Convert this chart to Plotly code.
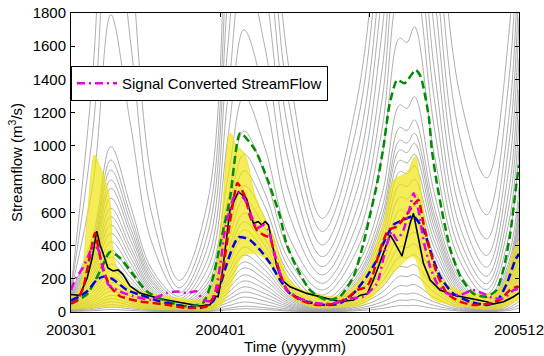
import plotly.graph_objects as go

# ---------------- axis / tick labels ----------------
tick_months = [0, 12, 24, 36]
tick_labels = ["200301", "200401", "200501", "200512"]

# ---------------- observed (black) ----------------
obs_m = [0, 0.7, 1.3, 1.7, 2.07, 2.33, 2.57, 2.97, 3.38, 3.78, 4.18, 4.74, 5.55, 7.15, 9.0, 10.37, 11.17,
         11.58, 11.82, 12.1, 12.5, 12.78, 13.45, 14.1, 14.65, 15.05, 15.33, 15.6, 15.87, 16.14, 16.54, 16.94,
         17.6, 18.95, 20.56, 21.6, 22.7, 23.2, 23.8, 24.3, 25.1, 25.64, 25.9, 26.3, 26.6, 26.85, 27.25, 27.52,
         27.92, 28.32, 28.86, 29.66, 30.7, 32.07, 33.4, 33.95, 34.76, 35.56, 36]
obs_q = [105, 100, 205, 325, 487, 405, 355, 265, 247, 253, 225, 157, 114, 80, 54, 36, 44,
         96, 92, 205, 445, 616, 724, 684, 534, 544, 524, 544, 524, 413, 273, 193,
         152, 112, 82, 62, 72, 100, 110, 193, 353, 464, 433, 373, 337, 413, 534, 594,
         453, 293, 193, 132, 102, 82, 62, 48, 62, 92, 115]

# ---------------- red dashed ----------------
red_m = [0, 0.5, 1.0, 1.5, 1.93, 2.33, 2.73, 3.14, 3.94, 5.55, 7.7, 9.3, 10.9, 11.7, 12.1, 12.5, 12.9, 13.37,
         13.99, 14.4, 14.93, 15.47, 16.0, 16.4, 16.8, 17.34, 18.4, 19.75, 21.1, 22.16, 22.97, 23.77, 24.2,
         24.83, 25.5, 26.18, 26.85, 27.52, 27.92, 28.32, 28.85, 29.4, 30.2, 31.26, 32.3, 33.4, 34.46, 35.27,
         35.83, 36]
red_q = [50, 70, 150, 330, 475, 337, 225, 155, 95, 64, 44, 24, 34, 120, 205, 403, 604, 777,
         694, 574, 494, 464, 444, 333, 233, 132, 72, 42, 48, 82, 132, 152, 213,
         373, 494, 514, 574, 644, 674, 534, 373, 233, 112, 62, 42, 48, 72, 132,
         152, 150]

# ---------------- blue dashed ----------------
blue_m = [0, 0.7, 1.26, 2.07, 2.6, 3.3, 4.5, 5.55, 7.15, 9.0, 10.37, 11.4, 12.0, 12.5, 13.0, 13.45, 14.0,
          14.39, 15.2, 16.0, 16.8, 17.6, 18.95, 20.56, 21.6, 22.7, 23.77, 24.57, 25.1, 25.9, 26.7, 27.52,
          28.32, 28.86, 29.66, 30.7, 32.07, 33.4, 34.2, 35.03, 35.7, 36]
blue_q = [70, 95, 122, 193, 213, 200, 132, 104, 64, 34, 24, 64, 165, 285, 390, 450, 445,
          433, 373, 293, 193, 112, 62, 42, 52, 112, 213, 313, 413, 524, 554, 576,
          494, 373, 213, 112, 62, 42, 62, 173, 313, 350]

# ---------------- green dashed ----------------
green_m = [0, 1.26, 2.33, 3.14, 3.94, 5.0, 6.1, 7.7, 9.3, 10.6, 11.4, 11.98, 12.78, 13.6, 14.8, 15.9, 16.8,
           17.3, 18.1, 19.2, 20.5, 21.6, 22.7, 23.5, 24.0, 24.6, 25.1, 25.6, 26.2, 26.8, 27.7, 28.1, 28.75,
           29.0, 29.4, 29.9, 30.5, 31.3, 32.3, 33.4, 34.2, 34.8, 35.3, 35.8, 36]
green_q = [54, 104, 245, 361, 325, 225, 124, 64, 34, 54, 205, 405, 686, 1077, 975, 775, 574,
           413, 273, 132, 72, 92, 213, 413, 574, 775, 990, 1250, 1397, 1377, 1457, 1417, 1176,
           975, 775, 574, 373, 213, 112, 92, 132, 273, 474, 775, 885]

# ---------------- magenta dash-dot (Signal Converted StreamFlow) ----------------
mag_m = [0, 0.4, 0.95, 1.38, 1.79, 2.2, 2.6, 3.0, 3.4, 3.9, 5.0, 6.35, 7.7, 8.5, 9.3, 10.1, 10.6, 11.2, 11.6,
         12.0, 12.4, 13.05, 13.45, 13.99, 14.52, 14.93, 15.47, 15.87, 16.27, 16.8, 17.34, 18.4, 19.75, 21.1,
         22.4, 23.5, 24.6, 25.25, 25.78, 26.18, 26.72, 27.25, 27.52, 27.92, 28.32, 28.85, 29.4, 30.2, 31.26,
         32.3, 33.1, 33.95, 34.76, 35.56, 36]
mag_q = [134, 205, 265, 335, 405, 375, 245, 165, 145, 124, 95, 74, 114, 124, 114, 124, 74, 64, 124,
         285, 506, 686, 716, 674, 574, 504, 524, 494, 373, 233, 132, 82, 52, 52,
         82, 92, 173, 373, 484, 433, 494, 634, 715, 614, 433, 273, 173, 112, 102,
         132, 112, 82, 82, 132, 140]

# ---------------- yellow ensemble envelope ----------------
yel_up_m = [0, 0.6, 1.0, 1.4, 1.9, 2.3, 2.8, 3.15, 3.35, 3.7, 4.3, 5.2, 6.5, 8.5, 10.5, 11.2, 11.7, 12.2, 12.8,
            13.3, 13.9, 14.8, 15.6, 16.3, 17.0, 17.8, 19, 20.5, 21.8, 22.9, 23.8, 24.5, 25.2, 25.9, 26.5, 27.0,
            27.65, 28.0, 28.4, 28.8, 29.4, 30.2, 31.2, 32.5, 33.8, 34.8, 35.5, 36]
yel_up_q = [90, 130, 300, 650, 945, 880, 780, 650, 380, 260, 190, 140, 110, 85, 75, 120, 300, 650, 1077,
            1000, 960, 700, 560, 450, 280, 170, 120, 95, 100, 170, 260, 400, 560, 790, 820, 840,
            935, 800, 560, 380, 250, 170, 130, 110, 115, 170, 350, 430]
yel_lo_m = [0, 1.5, 3.0, 4.5, 6, 9, 11.5, 12.3, 13.0, 13.8, 14.8, 15.8, 16.8, 17.8, 19.5, 21.5, 23.5, 24.5,
            25.5, 26.5, 27.5, 28.2, 29, 30.5, 32.5, 34, 35, 36]
yel_lo_q = [15, 20, 30, 25, 15, 10, 15, 60, 180, 330, 350, 300, 170, 80, 25, 25, 45, 110,
            200, 280, 330, 180, 80, 40, 20, 15, 35, 70]

# ---------------- gray ensemble: values read at peaks / troughs, lowest to highest member ----------------
gray_start = [3, 5, 8, 10, 13, 16, 20, 24, 28, 32, 36, 40, 45, 50, 55, 60, 65, 70, 76, 82, 88, 95, 102, 110,
              118, 126, 135, 145]
gray_peak03 = [15, 30, 45, 62, 80, 100, 125, 150, 178, 210, 250, 290, 330, 373, 423, 474, 524, 574, 624, 685,
               745, 795, 855, 915, 995, 1790, 2600, 3500]
gray_low03 = [1, 2, 3, 4, 5, 6, 7, 8, 9, 10, 12, 14, 16, 18, 21, 24, 28, 32, 37, 43, 50, 58, 68, 80, 95, 115,
              145, 190]
gray_peak04 = [20, 35, 60, 90, 120, 151, 187, 223, 265, 301, 343, 391, 452, 494, 542, 596, 680, 760, 850, 950,
               1090, 1300, 1700, 2100, 2600, 3100, 3600, 4200]
gray_low04 = [1, 1.5, 2, 3, 4, 5, 6, 7, 9, 11, 13, 16, 19, 23, 28, 34, 42, 55, 72, 102, 132, 173, 223, 273,
              333, 403, 484, 564]
gray_peak05 = [40, 74, 114, 165, 225, 285, 345, 410, 480, 560, 640, 720, 800, 880, 950, 1016, 1076, 1156, 1297,
               1717, 2000, 2300, 2600, 3000, 3400, 3800, 4300, 4800]
gray_low05 = [1, 1.5, 2, 3, 4, 5, 6, 8, 10, 12, 15, 18, 22, 27, 33, 40, 50, 62, 80, 105, 135, 170, 215, 270,
              340, 440, 586, 807]
# key months and relative position between neighbouring trough and peak (shape)
gray_key_m = [0, 1.8, 3.2, 4.8, 6.5, 8.7, 11.0, 12.6, 13.9, 15.6, 17.5, 20.2, 23.0, 25.0, 26.4, 27.0, 27.6,
              29.2, 31.2, 33.4, 35.2, 36]
gray_shape = [0.4, 0.6, 0.18, 0.12, 0.6, 0.72, 0.25, 0.17, 0.52, 0.96, 0.945, 0.52, 0.13, 0.22, 0.55]


def gray_curve(k):
    S, P1, T1 = gray_start[k], gray_peak03[k], gray_low03[k]
    P2, T2 = gray_peak04[k], gray_low04[k]
    P3, T3 = gray_peak05[k], gray_low05[k]
    f = gray_shape
    return [S, S + f[0] * (P1 - S), P1, T1 + f[1] * (P1 - T1), T1 + f[2] * (P1 - T1), T1,
            T1 + f[3] * (P2 - T1), T1 + f[4] * (P2 - T1), P2, T2 + f[5] * (P2 - T2), T2 + f[6] * (P2 - T2), T2,
            T2 + f[7] * (P3 - T2), T2 + f[8] * (P3 - T2), f[9] * P3, f[10] * P3, P3,
            T3 + f[11] * (P3 - T3), T3 + f[12] * (P3 - T3), T3, T3 + f[13] * (P3 - T3), T3 + f[14] * (P3 - T3)]


fig = go.Figure()

for k in range(len(gray_start)):
    fig.add_trace(go.Scatter(x=gray_key_m, y=gray_curve(k), mode="lines",
                             line=dict(color="rgb(165,165,165)", width=0.9, shape="spline", smoothing=1.0),
                             showlegend=False, hoverinfo="skip"))

# yellow band
fig.add_trace(go.Scatter(x=yel_lo_m, y=yel_lo_q, mode="lines", line=dict(width=0, shape="spline"),
                         showlegend=False, hoverinfo="skip"))
fig.add_trace(go.Scatter(x=yel_up_m, y=yel_up_q, mode="lines",
                         line=dict(width=0.8, color="rgb(235,225,40)", shape="spline"),
                         fill="tonexty", fillcolor="rgba(238,228,0,0.66)", showlegend=False, hoverinfo="skip"))

fig.add_trace(go.Scatter(x=obs_m, y=obs_q, mode="lines", line=dict(color="black", width=1.6),
                         showlegend=False))
fig.add_trace(go.Scatter(x=green_m, y=green_q, mode="lines",
                         line=dict(color="rgb(0,140,0)", width=2.5, dash="8px,4px", shape="spline", smoothing=0.6),
                         showlegend=False))
fig.add_trace(go.Scatter(x=blue_m, y=blue_q, mode="lines",
                         line=dict(color="rgb(0,0,230)", width=2.5, dash="8px,4px", shape="spline", smoothing=0.6),
                         showlegend=False))
fig.add_trace(go.Scatter(x=red_m, y=red_q, mode="lines",
                         line=dict(color="rgb(235,0,0)", width=2.5, dash="8px,4px", shape="spline", smoothing=0.5),
                         showlegend=False))
fig.add_trace(go.Scatter(x=mag_m, y=mag_q, mode="lines", name="Signal Converted StreamFlow",
                         line=dict(color="rgb(230,0,230)", width=2.5, dash="8px,4px,2px,4px", shape="spline",
                                   smoothing=0.5)))

axis_common = dict(showline=True, linecolor="black", linewidth=1, mirror="ticks", ticks="inside", ticklen=4,
                   tickcolor="black", showgrid=False, zeroline=False, automargin=False,
                   tickfont=dict(size=15, color="black"))

fig.update_xaxes(range=[0, 36], tickvals=tick_months, ticktext=tick_labels, ticklabeloverflow="allow",
                 ticklabelstandoff=4,
                 title=dict(text="Time (yyyymm)", font=dict(size=15, color="black"), standoff=2),
                 **axis_common)
fig.update_yaxes(range=[0, 1800], tick0=0, dtick=200, ticklabelstandoff=1,
                 title=dict(text="Streamflow (m<sup>3</sup>/s)", font=dict(size=15, color="black"), standoff=6),
                 **axis_common)

fig.update_layout(
    width=544, height=356,
    margin=dict(l=71, r=25, t=13, b=44),
    paper_bgcolor="white", plot_bgcolor="white",
    font=dict(family="Arial, Liberation Sans, sans-serif", size=15, color="black"),
    legend=dict(x=0, y=0.8227, xanchor="left", yanchor="top", bgcolor="white", bordercolor="black",
                borderwidth=1, font=dict(size=15), itemwidth=40),
)

fig.write_html("out.html")
